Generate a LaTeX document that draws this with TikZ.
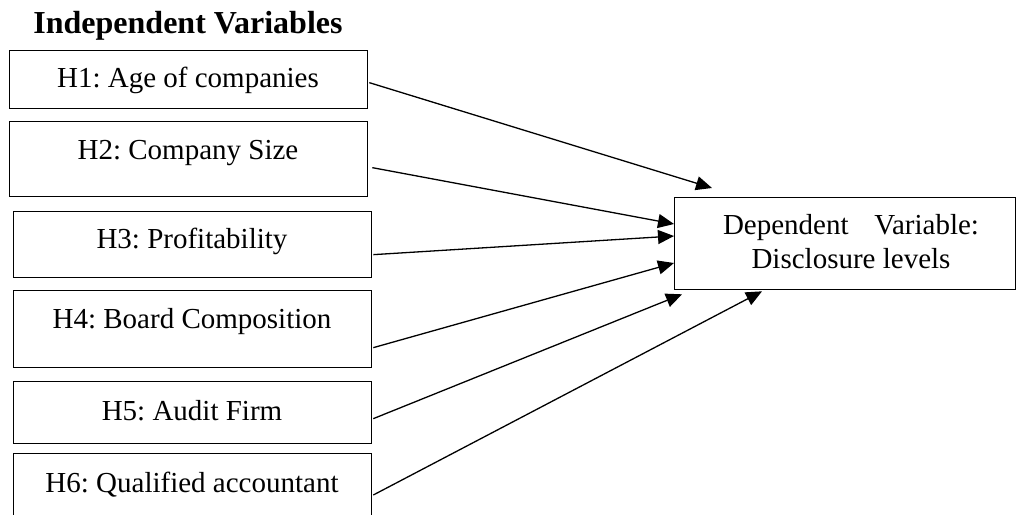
\documentclass[tikz,border=0pt]{standalone}
\usepackage{fontspec}
\setmainfont{Liberation Serif}
\usetikzlibrary{arrows.meta,calc}
\frenchspacing
\begin{document}
\begin{tikzpicture}[x=1pt,y=-1pt,
  box/.style={draw=black,line width=1.3pt,rectangle,inner sep=0pt,anchor=north west},
  lbl/.style={anchor=base,inner sep=0pt,font=\fontsize{29}{34}\selectfont},
  conn/.style={line width=1.3pt,-{Triangle[length=16pt,width=14pt]}}]
\useasboundingbox (0,0) rectangle (1016,514);
\clip (0,0) rectangle (1016,514);
\node[anchor=base,inner sep=0pt,font=\fontsize{32}{38}\selectfont\bfseries] (title) at (188,33) {Independent Variables};
\node[box,minimum width=358pt,minimum height=58pt] (h1) at (9,50) {};
\node[box,minimum width=358pt,minimum height=75pt] (h2) at (9,121) {};
\node[box,minimum width=358pt,minimum height=66pt] (h3) at (13,211) {};
\node[box,minimum width=358pt,minimum height=77pt] (h4) at (13,290) {};
\node[box,minimum width=358pt,minimum height=62pt] (h5) at (13,381) {};
\node[box,minimum width=358pt,minimum height=70pt] (h6) at (13,453) {};
\node[lbl] (t1) at (188,87) {H1: Age of companies};
\node[lbl] (t2) at (188,159) {H2: Company Size};
\node[lbl] (t3) at (192,248) {H3: Profitability};
\node[lbl] (t4) at (192,328) {H4: Board Composition};
\node[lbl] (t5) at (192,420) {H5: Audit Firm};
\node[lbl] (t6) at (192,492) {H6: Qualified accountant};
\node[box,minimum width=341pt,minimum height=92pt] (dep) at (674,197) {};
\node[lbl] (d1) at (851,234) {\makebox[256pt][s]{Dependent Variable:}};
\node[lbl] (d2) at (851,268) {Disclosure levels};
\draw[conn] ($(h1.east)+(1,3)$) -- ($(dep.north west)+(38,-9)$);
\draw[conn] ($(h2.east)+(4,8.5)$) -- ($(dep.north west)+(0,27)$);
\draw[conn] ($(h3.east)+(1,10)$) -- ($(dep.north west)+(0,39)$);
\draw[conn] ($(h4.east)+(1,18.5)$) -- ($(dep.north west)+(0,66)$);
\draw[conn] ($(h5.east)+(1,6)$) -- ($(dep.south west)+(8,4)$);
\draw[conn] ($(h6.north east)+(1,42)$) -- ($(dep.south west)+(88,1)$);
\end{tikzpicture}
\end{document}
